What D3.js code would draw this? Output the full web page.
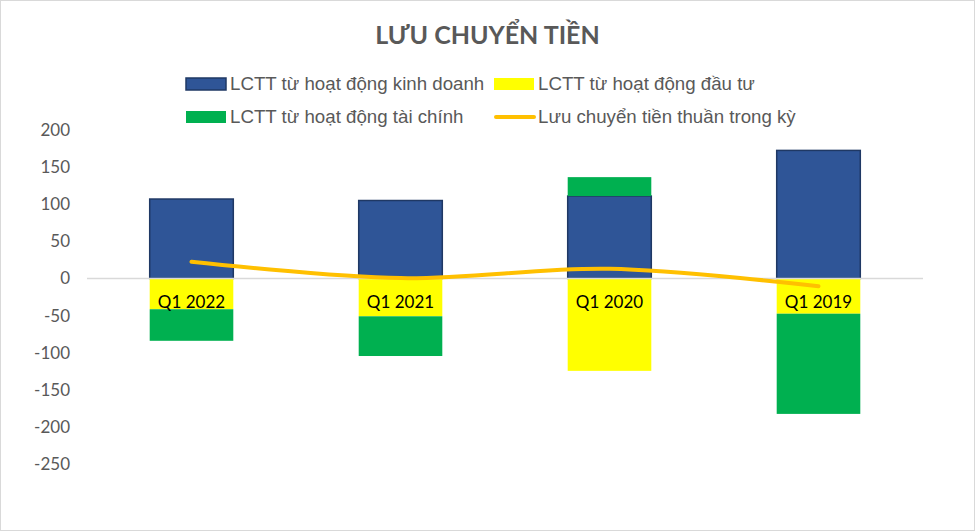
<!DOCTYPE html>
<html>
<head>
<meta charset="utf-8">
<script src="https://cdn.jsdelivr.net/npm/d3@7"></script>
<style>
  body { margin: 0; background: #fff; }
  svg { display: block; }
</style>
</head>
<body>
<svg id="chart"></svg>
<script>
const width = 975;
const height = 531;

// data (tỷ đồng)
const quarters = ["Q1 2022", "Q1 2021", "Q1 2020", "Q1 2019"];
const operating = [107, 105, 111, 172.5];
const investing = [-41.5, -51, -124.5, -47.5];
const financing = [-42.5, -53.5, 25.5, -135];
const netFlow = [22.5, 0.5, 13, -10.5];
const yTicks = [200, 150, 100, 50, 0, -50, -100, -150, -200, -250];
const seriesNames = [
    "LCTT từ hoạt động kinh doanh",
    "LCTT từ hoạt động đầu tư",
    "LCTT từ hoạt động tài chính",
    "Lưu chuyển tiền thuần trong kỳ"
];
const colors = ["#2F5597", "#FFFF00", "#00B050", "#FFC000"];

const svg = d3.select("#chart")
    .attr("width", width)
    .attr("height", height);

svg.append("rect")
    .attr("x", 0.5).attr("y", 0.5)
    .attr("width", width - 1).attr("height", height - 1)
    .attr("fill", "#fff")
    .attr("stroke", "#D9D9D9");

svg.append("text")
    .attr("x", width / 2)
    .attr("y", 44)
    .attr("text-anchor", "middle")
    .attr("font-family", "Lato, sans-serif")
    .attr("font-weight", "bold")
    .attr("font-size", 25)
    .attr("fill", "#595959")
    .text("LƯU CHUYỂN TIỀN");

const x = d3.scaleBand()
    .domain(quarters)
    .range([87, 923])
    .paddingInner(0.6)
    .paddingOuter(0.3);

const y = d3.scaleLinear()
    .domain([-250, 200])
    .range([464, 130]);

// y axis labels only
const yAxis = svg.append("g")
    .attr("transform", "translate(87,0)")
    .call(d3.axisLeft(y).tickValues(yTicks).tickSize(0).tickPadding(17)
        .tickFormat(d => String(d)));
yAxis.select(".domain").remove();
yAxis.selectAll("text")
    .attr("font-family", "Lato, sans-serif")
    .attr("font-size", 17)
    .attr("fill", "#595959");

// stacked bars
const rows = quarters.map((q, i) => ({
    q, op: operating[i], inv: investing[i], fin: financing[i]
}));
const stack = d3.stack()
    .keys(["op", "inv", "fin"])
    .offset(d3.stackOffsetDiverging);
const stacked = stack(rows);

stacked.forEach((layer, k) => {
    svg.append("g")
        .selectAll("rect")
        .data(layer)
        .enter().append("rect")
        .attr("x", d => x(d.data.q))
        .attr("width", x.bandwidth())
        .attr("y", d => y(Math.max(d[0], d[1])))
        .attr("height", d => Math.abs(y(d[0]) - y(d[1])))
        .attr("fill", colors[k])
        .attr("stroke", k === 0 ? "#1F3864" : "none")
        .attr("stroke-width", k === 0 ? 1.5 : 0);
});

// zero line
svg.append("line")
    .attr("x1", 87).attr("x2", 923)
    .attr("y1", y(0)).attr("y2", y(0))
    .attr("stroke", "#D9D9D9")
    .attr("stroke-width", 1.5);

// category labels
svg.append("g")
    .selectAll("text")
    .data(quarters)
    .enter().append("text")
    .attr("x", d => x(d) + x.bandwidth() / 2)
    .attr("y", y(0) + 30)
    .attr("text-anchor", "middle")
    .attr("font-family", "Lato, sans-serif")
    .attr("font-size", 17)
    .attr("fill", "#000")
    .text(d => d);

// net flow line
const line = d3.line()
    .x((d, i) => x(quarters[i]) + x.bandwidth() / 2)
    .y(d => y(d))
    .curve(d3.curveCatmullRom);

svg.append("path")
    .datum(netFlow)
    .attr("d", line)
    .attr("fill", "none")
    .attr("stroke", colors[3])
    .attr("stroke-width", 4)
    .attr("stroke-linecap", "round");

// legend
const legendItems = [
    { name: seriesNames[0], color: colors[0], type: "bar", x: 186, y: 84 },
    { name: seriesNames[1], color: colors[1], type: "bar", x: 494, y: 84 },
    { name: seriesNames[2], color: colors[2], type: "bar", x: 186, y: 117 },
    { name: seriesNames[3], color: colors[3], type: "line", x: 494, y: 117 }
];

const legend = svg.append("g")
    .selectAll("g")
    .data(legendItems)
    .enter().append("g")
    .attr("transform", d => `translate(${d.x},${d.y})`);

legend.filter(d => d.type === "bar").append("rect")
    .attr("x", 0).attr("y", -6)
    .attr("width", 40).attr("height", 12)
    .attr("fill", d => d.color)
    .attr("stroke", d => d.color === colors[0] ? "#1F3864" : "none")
    .attr("stroke-width", 1.5);

legend.filter(d => d.type === "line").append("line")
    .attr("x1", 2).attr("x2", 40)
    .attr("y1", 0).attr("y2", 0)
    .attr("stroke", d => d.color)
    .attr("stroke-width", 4)
    .attr("stroke-linecap", "round");

legend.append("text")
    .attr("x", 44)
    .attr("y", 6)
    .attr("font-family", "Liberation Sans, Arial, sans-serif")
    .attr("font-size", 18.7)
    .attr("fill", "#595959")
    .text(d => d.name);
</script>
</body>
</html>
